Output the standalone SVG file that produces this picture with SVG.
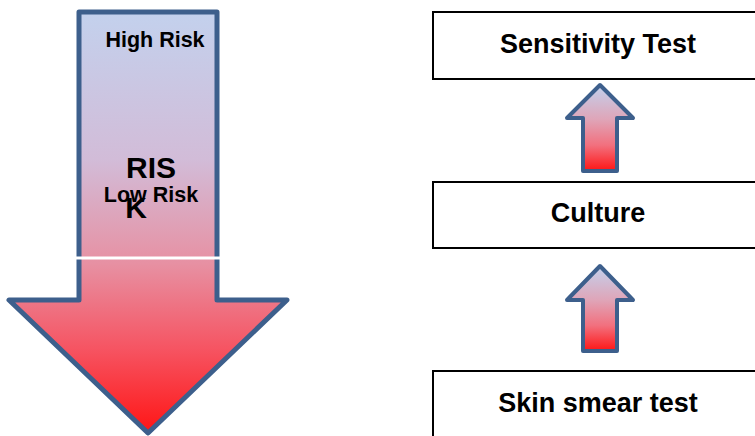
<svg xmlns="http://www.w3.org/2000/svg" width="755" height="436" viewBox="0 0 755 436">
<defs>
<linearGradient id="gBig" gradientUnits="userSpaceOnUse" x1="0" y1="12" x2="0" y2="433">
<stop offset="0" stop-color="#c3d1ed"/>
<stop offset="0.35" stop-color="#d2bcd8"/>
<stop offset="0.6" stop-color="#e790a2"/>
<stop offset="0.8" stop-color="#f65462"/>
<stop offset="1" stop-color="#ff1515"/>
</linearGradient>
<linearGradient id="gSmall" x1="0" y1="0" x2="0" y2="1">
<stop offset="0" stop-color="#c3d1ed"/>
<stop offset="0.4" stop-color="#dfa5b8"/>
<stop offset="0.7" stop-color="#f2707e"/>
<stop offset="1" stop-color="#ff1515"/>
</linearGradient>
</defs>
<style>
.arrow{stroke:#3d5f8c;stroke-linejoin:round}
.box{fill:#ffffff;stroke:#000000;stroke-width:2}
.lbl{font-family:"Liberation Sans",Arial,sans-serif;font-weight:bold;fill:#000000;text-anchor:middle}
.big{font-size:27px}
.risk{font-size:21.5px}
</style>
<g id="risk-arrow">
<path class="arrow" d="M79,12 L217,12 L217,300 L287,300 L148,433 L9,300 L79,300 Z" fill="url(#gBig)" stroke-width="5"/>
<line x1="76" y1="258" x2="220" y2="258" stroke="#ffffff" stroke-width="3"/>
<text class="lbl risk" x="155" y="47">High Risk</text>
<text class="lbl" x="151" y="178" font-size="30">RIS</text>
<text class="lbl" x="151" y="202" font-size="21.5">Low Risk</text>
<text class="lbl" x="136" y="218" font-size="30">K</text>
</g>
<g id="sensitivity-test">
<rect class="box" x="433" y="12" width="330" height="67"/>
<text class="lbl big" x="598" y="53">Sensitivity Test</text>
</g>
<g id="culture">
<rect class="box" x="433" y="182" width="330" height="66"/>
<text class="lbl big" x="598" y="222">Culture</text>
</g>
<g id="skin-smear-test">
<rect class="box" x="433" y="371" width="330" height="80"/>
<text class="lbl big" x="598" y="412">Skin smear test</text>
</g>
<g id="connectors">
<path class="arrow" d="M600,85 L633,118 L617,118 L617,171 L583,171 L583,118 L567,118 Z" fill="url(#gSmall)" stroke-width="4"/>
<path class="arrow" d="M600,266 L633,300 L617,300 L617,351 L583,351 L583,300 L567,300 Z" fill="url(#gSmall)" stroke-width="4"/>
</g>
</svg>
